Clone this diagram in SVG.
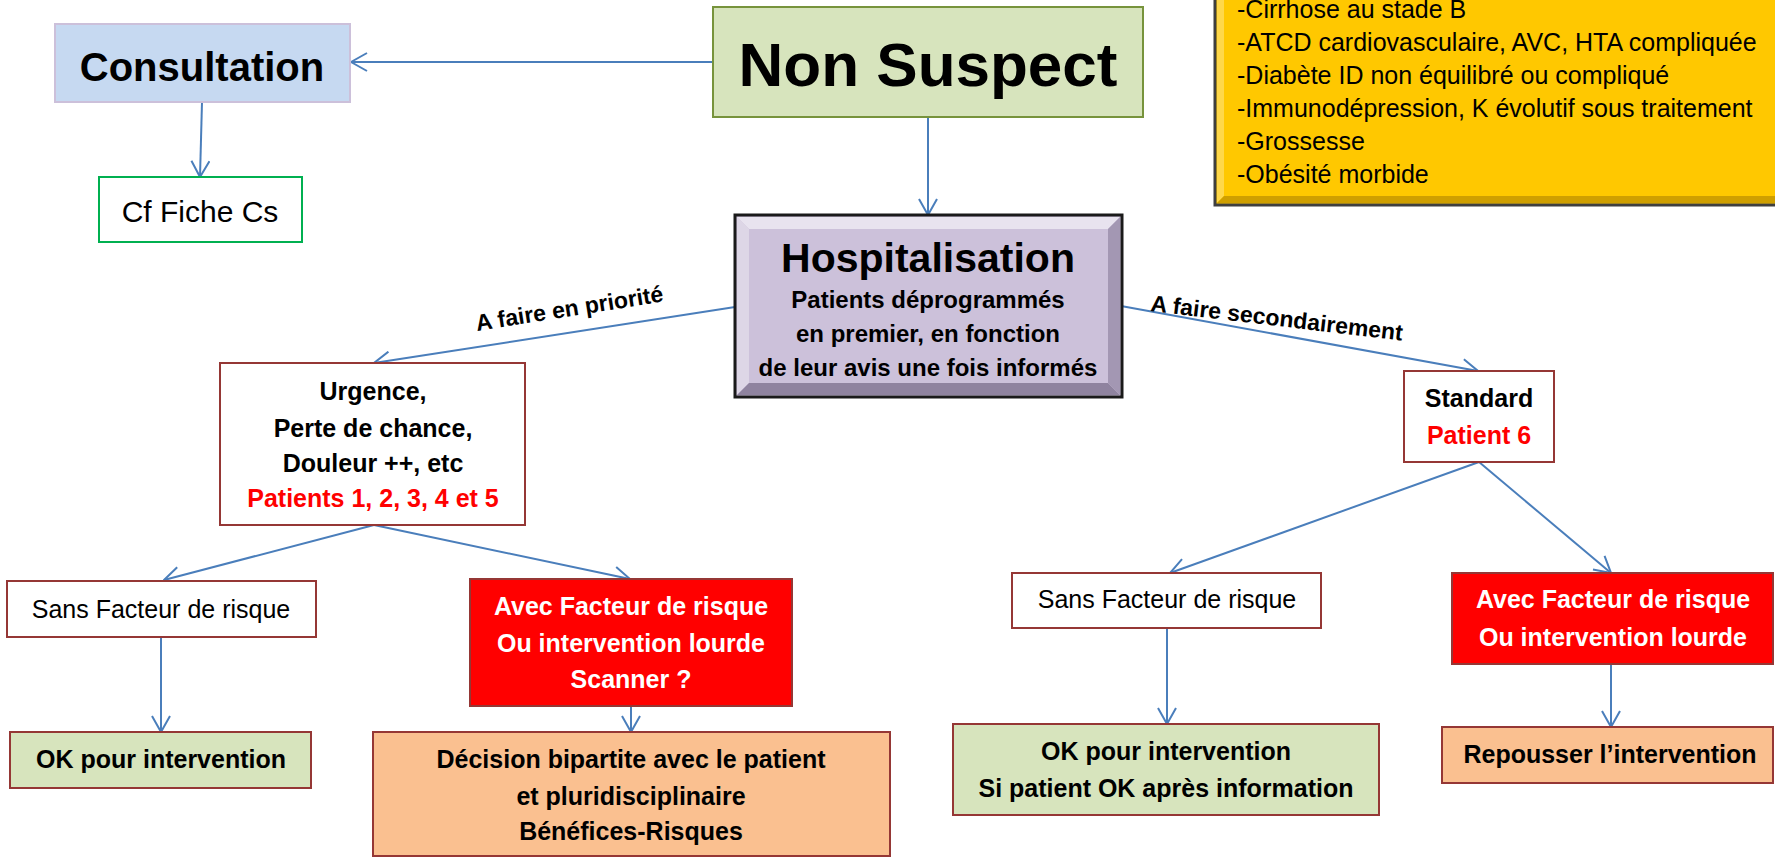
<svg xmlns="http://www.w3.org/2000/svg" width="1775" height="858" viewBox="0 0 1775 858">
<defs>
<style>
text{font-family:"Liberation Sans",Arial,sans-serif;fill:#000}
.b{font-weight:bold}
.c{text-anchor:middle}
.w{fill:#fff}
.r{fill:#ff0000}
.box{stroke:#953735;stroke-width:2}
.conn{stroke:#4a7ebb;stroke-width:2;fill:none;marker-end:url(#ah)}
</style>
<marker id="ah" viewBox="0 0 18 20" refX="17" refY="10" markerWidth="18" markerHeight="20" markerUnits="userSpaceOnUse" orient="auto">
<path d="M1,1 L17,10 L1,19" fill="none" stroke="#4a7ebb" stroke-width="2"/>
</marker>
</defs>
<rect width="1775" height="858" fill="#fff"/>

<g id="connectors">
<line class="conn" x1="713" y1="62" x2="351" y2="62"/>
<line class="conn" x1="202" y1="102" x2="200" y2="177"/>
<line class="conn" x1="928" y1="117" x2="928" y2="215"/>
<line class="conn" x1="735" y1="307" x2="374" y2="363"/>
<line class="conn" x1="1121" y1="306" x2="1478" y2="371"/>
<line class="conn" x1="374" y1="525" x2="164" y2="580"/>
<line class="conn" x1="374" y1="525" x2="630" y2="579"/>
<line class="conn" x1="161" y1="637" x2="161" y2="732"/>
<line class="conn" x1="631" y1="706" x2="631" y2="732"/>
<line class="conn" x1="1479" y1="462" x2="1170" y2="573"/>
<line class="conn" x1="1479" y1="462" x2="1611" y2="573"/>
<line class="conn" x1="1167" y1="628" x2="1167" y2="724"/>
<line class="conn" x1="1611" y1="664" x2="1611" y2="727"/>
<text class="b" font-size="23" transform="translate(477,331) rotate(-9)">A faire en priorité</text>
<text class="b" font-size="23" transform="translate(1150,311) rotate(6.7)">A faire secondairement</text>
</g>

<g id="consultation">
<rect x="55" y="24" width="295" height="78" fill="#c6d9f1" stroke="#ccc0da" stroke-width="2"/>
<text class="b c" x="202" y="81" font-size="40">Consultation</text>
</g>

<g id="cf-fiche">
<rect x="99" y="177" width="203" height="65" fill="#fff" stroke="#00b050" stroke-width="2"/>
<text class="c" x="200" y="222" font-size="30">Cf Fiche Cs</text>
</g>

<g id="non-suspect">
<rect x="713" y="7" width="430" height="110" fill="#d7e4bd" stroke="#77933c" stroke-width="2"/>
<text class="b c" x="928" y="86" font-size="62">Non Suspect</text>
</g>

<g id="facteurs">
<rect x="1215" y="-5" width="570" height="210" fill="#ffc800" stroke="#3f3f3f" stroke-width="3"/>
<polygon points="1217,-3 1224,-3 1224,196 1217,203" fill="#ffd84a"/>
<polygon points="1217,203 1224,196 1775,196 1775,203" fill="#cf9f00"/>
<g font-size="25">
<text x="1237" y="18">-Cirrhose au stade B</text>
<text x="1237" y="51">-ATCD cardiovasculaire, AVC, HTA compliquée</text>
<text x="1237" y="84">-Diabète ID non équilibré ou compliqué</text>
<text x="1237" y="117">-Immunodépression, K évolutif sous traitement</text>
<text x="1237" y="150">-Grossesse</text>
<text x="1237" y="183">-Obésité morbide</text>
</g>
</g>

<g id="hospitalisation">
<rect x="735" y="215" width="387" height="182" fill="#ccc1da" stroke="#1a1a1a" stroke-width="3"/>
<polygon points="737,217 1120,217 1108,229 749,229" fill="#e8e3ef"/>
<polygon points="737,217 749,229 749,383 737,395" fill="#ddd6e6"/>
<polygon points="737,395 749,383 1108,383 1120,395" fill="#8f839f"/>
<polygon points="1120,217 1120,395 1108,383 1108,229" fill="#a397b3"/>
<text class="b c" x="928" y="272" font-size="41">Hospitalisation</text>
<text class="b c" x="928" y="308" font-size="24">Patients déprogrammés</text>
<text class="b c" x="928" y="342" font-size="24">en premier, en fonction</text>
<text class="b c" x="928" y="376" font-size="24">de leur avis une fois informés</text>
</g>

<g id="urgence">
<rect class="box" x="220" y="363" width="305" height="162" fill="#fff"/>
<text class="b c" x="373" y="400" font-size="25">Urgence,</text>
<text class="b c" x="373" y="437" font-size="25">Perte de chance,</text>
<text class="b c" x="373" y="472" font-size="25">Douleur ++, etc</text>
<text class="b c r" x="373" y="507" font-size="25">Patients 1, 2, 3, 4 et 5</text>
</g>

<g id="standard">
<rect class="box" x="1404" y="371" width="150" height="91" fill="#fff"/>
<text class="b c" x="1479" y="407" font-size="25">Standard</text>
<text class="b c r" x="1479" y="444" font-size="25">Patient 6</text>
</g>

<g id="sans-facteur-1">
<rect class="box" x="7" y="581" width="309" height="56" fill="#fff"/>
<text class="c" x="161" y="618" font-size="25">Sans Facteur de risque</text>
</g>

<g id="avec-facteur-1">
<rect class="box" x="470" y="579" width="322" height="127" fill="#ff0000" stroke="#be4b48"/>
<text class="b c w" x="631" y="615" font-size="25">Avec Facteur de risque</text>
<text class="b c w" x="631" y="652" font-size="25">Ou intervention lourde</text>
<text class="b c w" x="631" y="688" font-size="25">Scanner ?</text>
</g>

<g id="ok-1">
<rect class="box" x="10" y="732" width="301" height="56" fill="#d7e4bd"/>
<text class="b c" x="161" y="768" font-size="25">OK pour intervention</text>
</g>

<g id="decision">
<rect class="box" x="373" y="732" width="517" height="124" fill="#fac090"/>
<text class="b c" x="631" y="768" font-size="25">Décision bipartite avec le patient</text>
<text class="b c" x="631" y="805" font-size="25">et pluridisciplinaire</text>
<text class="b c" x="631" y="840" font-size="25">Bénéfices-Risques</text>
</g>

<g id="sans-facteur-2">
<rect class="box" x="1012" y="573" width="309" height="55" fill="#fff"/>
<text class="c" x="1167" y="608" font-size="25">Sans Facteur de risque</text>
</g>

<g id="avec-facteur-2">
<rect class="box" x="1452" y="573" width="321" height="91" fill="#ff0000" stroke="#be4b48"/>
<text class="b c w" x="1613" y="608" font-size="25">Avec Facteur de risque</text>
<text class="b c w" x="1613" y="646" font-size="25">Ou intervention lourde</text>
</g>

<g id="ok-2">
<rect class="box" x="953" y="724" width="426" height="91" fill="#d7e4bd"/>
<text class="b c" x="1166" y="760" font-size="25">OK pour intervention</text>
<text class="b c" x="1166" y="797" font-size="25">Si patient OK après information</text>
</g>

<g id="repousser">
<rect class="box" x="1442" y="727" width="331" height="56" fill="#fac090"/>
<text class="b c" x="1610" y="763" font-size="25">Repousser l’intervention</text>
</g>
</svg>
